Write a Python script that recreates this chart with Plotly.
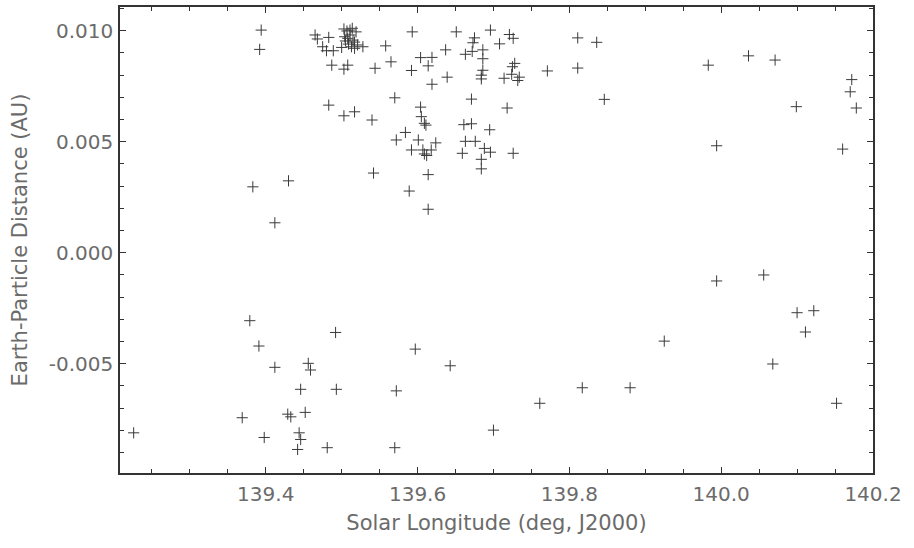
import plotly.graph_objects as go

# Solar longitude (deg, J2000)
solar_longitude = [
    139.394, 139.392, 139.383, 139.430, 139.412,
    139.465, 139.468, 139.483, 139.475, 139.480, 139.489, 139.500, 139.487, 139.503, 139.508,
    139.483, 139.503, 139.517, 139.540,
    139.503, 139.507, 139.511, 139.514, 139.519, 139.504, 139.508, 139.511, 139.515, 139.517,
    139.513, 139.517, 139.509, 139.521, 139.505, 139.528,
    139.558, 139.544, 139.565, 139.593, 139.592, 139.604, 139.619, 139.614, 139.619, 139.637,
    139.639, 139.651, 139.663, 139.675, 139.673, 139.672, 139.686, 139.686, 139.696, 139.708,
    139.721, 139.726, 139.728, 139.725, 139.724, 139.686, 139.684, 139.684, 139.714, 139.734,
    139.732, 139.771, 139.811, 139.811, 139.836, 139.846, 139.671, 139.718, 139.604, 139.570,
    139.605, 139.609, 139.611, 139.584, 139.572, 139.601, 139.624, 139.592, 139.607, 139.618,
    139.609, 139.612, 139.661, 139.671, 139.695, 139.663, 139.676, 139.688, 139.696, 139.659,
    139.684, 139.684, 139.726, 139.542, 139.614, 139.589, 139.614,
    139.983, 140.036, 140.071, 140.172, 140.170, 140.178, 140.099, 139.994, 140.160,
    139.226, 139.379, 139.391, 139.412, 139.492, 139.456, 139.459, 139.446, 139.493, 139.369,
    139.429, 139.433, 139.452, 139.398, 139.444, 139.446, 139.442, 139.481, 139.570, 139.572,
    139.597, 139.643, 139.700, 139.761, 139.817, 139.880, 139.925, 139.994, 140.056, 140.068,
    140.100, 140.122, 140.111, 140.152,
]

# Earth-particle distance (AU)
distance_au = [
    0.01003, 0.00916, 0.00297, 0.00324, 0.00135,
    0.00981, 0.00963, 0.00970, 0.00928, 0.00910, 0.00910, 0.00925, 0.00845, 0.00827, 0.00845,
    0.00665, 0.00617, 0.00635, 0.00598,
    0.01008, 0.00999, 0.01003, 0.01011, 0.00995, 0.00973, 0.00966, 0.00981, 0.00958, 0.00949,
    0.00928, 0.00921, 0.00940, 0.00936, 0.00954, 0.00928,
    0.00932, 0.00831, 0.00860, 0.00995, 0.00821, 0.00879, 0.00880, 0.00842, 0.00759, 0.00914,
    0.00791, 0.00995, 0.00894, 0.00968, 0.00946, 0.00907, 0.00914, 0.00874, 0.01003, 0.00941,
    0.00983, 0.00966, 0.00853, 0.00838, 0.00804, 0.00822, 0.00800, 0.00783, 0.00786, 0.00791,
    0.00776, 0.00819, 0.00968, 0.00832, 0.00948, 0.00691, 0.00692, 0.00652, 0.00656, 0.00698,
    0.00613, 0.00583, 0.00575, 0.00542, 0.00508, 0.00508, 0.00495, 0.00463, 0.00463, 0.00463,
    0.00445, 0.00438, 0.00577, 0.00581, 0.00554, 0.00502, 0.00502, 0.00470, 0.00453, 0.00448,
    0.00421, 0.00378, 0.00448, 0.00359, 0.00352, 0.00278, 0.00196,
    0.00845, 0.00887, 0.00868, 0.00780, 0.00725, 0.00652, 0.00658, 0.00482, 0.00467,
    -0.00811, -0.00306, -0.00420, -0.00516, -0.00359, -0.00498, -0.00528, -0.00615, -0.00615, -0.00743,
    -0.00727, -0.00739, -0.00719, -0.00832, -0.00811, -0.00841, -0.00886, -0.00878, -0.00878, -0.00622,
    -0.00434, -0.00509, -0.00799, -0.00678, -0.00608, -0.00608, -0.00398, -0.00127, -0.00100, -0.00501,
    -0.00270, -0.00261, -0.00357, -0.00678,
]

x_tick_vals = [139.4, 139.6, 139.8, 140.0, 140.2]
x_tick_text = ["139.4", "139.6", "139.8", "140.0", "140.2"]
y_tick_vals = [-0.005, 0.0, 0.005, 0.010]
y_tick_text = ["-0.005", "0.000", "0.005", "0.010"]

FONT = "DejaVu Sans"
TEXT_COLOR = "#6b6b6b"
AXIS_COLOR = "#333333"

fig = go.Figure(
    go.Scatter(
        x=solar_longitude,
        y=distance_au,
        mode="markers",
        marker=dict(symbol="cross-thin", size=8,
                    line=dict(width=1, color="#3a3a3a"), color="#3a3a3a"),
        hoverinfo="x+y",
    )
)

axis_common = dict(
    showgrid=False,
    zeroline=False,
    showline=True,
    linecolor=AXIS_COLOR,
    linewidth=1.5,
    mirror="allticks",
    ticks="inside",
    ticklen=6,
    tickwidth=1,
    tickcolor=AXIS_COLOR,
    tickfont=dict(family=FONT, size=20, color=TEXT_COLOR),
    tickmode="array",
)

fig.update_xaxes(
    **axis_common,
    range=[139.208, 140.2],
    tickvals=x_tick_vals,
    ticktext=x_tick_text,
    minor=dict(ticks="inside", ticklen=4, tickwidth=1, tickcolor=AXIS_COLOR,
               dtick=0.05, tick0=139.4, showgrid=False),
    title=dict(text="Solar Longitude (deg, J2000)",
               font=dict(family=FONT, size=21, color=TEXT_COLOR), standoff=11),
    ticklabelstandoff=2,
)
fig.update_yaxes(
    **axis_common,
    range=[-0.00992, 0.01107],
    tickvals=y_tick_vals,
    ticktext=y_tick_text,
    minor=dict(ticks="inside", ticklen=4, tickwidth=1, tickcolor=AXIS_COLOR,
               dtick=0.001, tick0=0, showgrid=False),
    title=dict(text="Earth-Particle Distance (AU)",
               font=dict(family=FONT, size=21, color=TEXT_COLOR), standoff=15),
    ticklabelstandoff=1,
)

fig.update_layout(
    width=914,
    height=548,
    margin=dict(l=120, r=41, t=7, b=75, autoexpand=False),
    paper_bgcolor="white",
    plot_bgcolor="white",
    showlegend=False,
    font=dict(family=FONT, color=TEXT_COLOR),
)

fig.write_html("out.html")
